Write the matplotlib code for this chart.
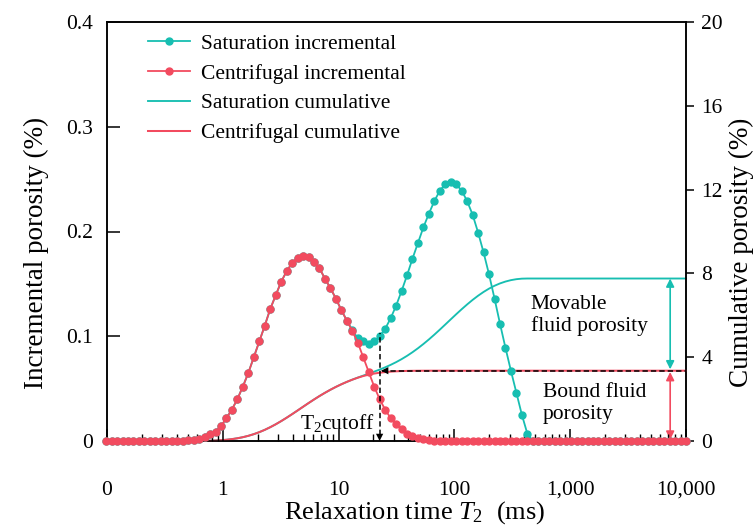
import numpy as np
import matplotlib
matplotlib.use("Agg")
import matplotlib.pyplot as plt
from matplotlib.ticker import FixedLocator, FixedFormatter, LogLocator, NullFormatter

plt.rcParams['font.family'] = ['Liberation Serif', 'DejaVu Serif']
plt.rcParams['mathtext.fontset'] = 'custom'
plt.rcParams['mathtext.rm'] = 'Liberation Serif'
plt.rcParams['mathtext.it'] = 'Liberation Serif:italic'

# T2 grid of the NMR inversion (128 log-spaced bins 0.01-10000 ms, visible part)
T2 = np.logspace(-2, 4, 128)[21:]

centrifugal_inc = [
    0, 0, 0, 0, 0, 0, 0, 0, 0, 0,
    0, 0, 0, 0, 0, 0.001, 0.001, 0.002, 0.004, 0.007,
    0.009, 0.014, 0.022, 0.030, 0.040, 0.052, 0.065, 0.080, 0.095, 0.110,
    0.126, 0.139, 0.152, 0.162, 0.170, 0.175, 0.177, 0.176, 0.171, 0.165,
    0.155, 0.146, 0.136, 0.125, 0.115, 0.105, 0.094, 0.080, 0.066, 0.052,
    0.040, 0.030, 0.022, 0.016, 0.011, 0.007, 0.005, 0.003, 0.002, 0.001,
    0, 0, 0, 0, 0, 0, 0, 0, 0, 0,
    0, 0, 0, 0, 0, 0, 0, 0, 0, 0,
    0, 0, 0, 0, 0, 0, 0, 0, 0, 0,
    0, 0, 0, 0, 0, 0, 0, 0, 0, 0,
    0, 0, 0, 0, 0, 0, 0,
]

saturation_inc = [
    0, 0, 0, 0, 0, 0, 0, 0, 0, 0,
    0, 0, 0, 0, 0, 0.001, 0.001, 0.002, 0.004, 0.007,
    0.009, 0.014, 0.022, 0.030, 0.040, 0.052, 0.065, 0.080, 0.095, 0.110,
    0.126, 0.139, 0.152, 0.162, 0.170, 0.175, 0.177, 0.176, 0.171, 0.165,
    0.155, 0.146, 0.136, 0.125, 0.115, 0.106, 0.098, 0.095, 0.093, 0.095,
    0.100, 0.107, 0.117, 0.129, 0.143, 0.158, 0.174, 0.189, 0.204, 0.217,
    0.229, 0.239, 0.245, 0.247, 0.245, 0.239, 0.229, 0.216, 0.199, 0.180,
    0.159, 0.136, 0.112, 0.089, 0.067, 0.046, 0.025, 0.007, 0, 0,
    0, 0, 0, 0, 0, 0, 0, 0, 0, 0,
    0, 0, 0, 0, 0, 0, 0, 0, 0, 0,
    0, 0, 0, 0, 0, 0, 0,
]

centrifugal_cum = [
    0, 0, 0, 0, 0, 0, 0, 0, 0, 0,
    0, 0, 0, 0, 0, 0.001, 0.002, 0.004, 0.008, 0.015,
    0.024, 0.038, 0.060, 0.090, 0.130, 0.182, 0.247, 0.327, 0.422, 0.532,
    0.658, 0.797, 0.949, 1.111, 1.281, 1.456, 1.633, 1.809, 1.980, 2.145,
    2.300, 2.446, 2.582, 2.707, 2.822, 2.927, 3.021, 3.101, 3.167, 3.219,
    3.259, 3.289, 3.311, 3.327, 3.338, 3.345, 3.350, 3.353, 3.355, 3.356,
    3.356, 3.356, 3.356, 3.356, 3.356, 3.356, 3.356, 3.356, 3.356, 3.356,
    3.356, 3.356, 3.356, 3.356, 3.356, 3.356, 3.356, 3.356, 3.356, 3.356,
    3.356, 3.356, 3.356, 3.356, 3.356, 3.356, 3.356, 3.356, 3.356, 3.356,
    3.356, 3.356, 3.356, 3.356, 3.356, 3.356, 3.356, 3.356, 3.356, 3.356,
    3.356, 3.356, 3.356, 3.356, 3.356, 3.356, 3.356,
]

saturation_cum = [
    0, 0, 0, 0, 0, 0, 0, 0, 0, 0,
    0, 0, 0, 0, 0, 0.001, 0.002, 0.004, 0.008, 0.015,
    0.024, 0.038, 0.060, 0.090, 0.130, 0.182, 0.247, 0.327, 0.422, 0.532,
    0.658, 0.797, 0.949, 1.111, 1.281, 1.456, 1.633, 1.809, 1.980, 2.145,
    2.300, 2.446, 2.582, 2.707, 2.822, 2.928, 3.026, 3.121, 3.214, 3.309,
    3.409, 3.516, 3.633, 3.762, 3.905, 4.063, 4.237, 4.426, 4.630, 4.847,
    5.076, 5.315, 5.560, 5.807, 6.052, 6.291, 6.520, 6.736, 6.935, 7.115,
    7.274, 7.410, 7.522, 7.611, 7.678, 7.724, 7.749, 7.756, 7.756, 7.756,
    7.756, 7.756, 7.756, 7.756, 7.756, 7.756, 7.756, 7.756, 7.756, 7.756,
    7.756, 7.756, 7.756, 7.756, 7.756, 7.756, 7.756, 7.756, 7.756, 7.756,
    7.756, 7.756, 7.756, 7.756, 7.756, 7.756, 7.756,
]

x_ticks = [0.1, 1, 10, 100, 1000, 10000]
x_ticklabels = ['0', '1', '10', '100', '1,000', '10,000']
y_left_ticks = [0, 0.1, 0.2, 0.3, 0.4]
y_left_labels = ['0', '0.1', '0.2', '0.3', '0.4']
y_right_ticks = [0, 4, 8, 12, 16, 20]
y_right_labels = ['0', '4', '8', '12', '16', '20']

T2_CUTOFF = 22.6
CUTOFF_INC = 0.103
BOUND = 3.356
TOTAL = 7.756
ARROW_T2 = 7300

TEAL = '#17BEB1'
RED = '#F24B5F'

fig = plt.figure(figsize=(7.56, 5.26), dpi=100)
ax = fig.add_axes([107/756, 1-441/526, 579/756, 419/526])
ax2 = ax.twinx()

# cumulative (right axis)
l3, = ax2.plot(T2, saturation_cum, color=TEAL, lw=1.35, clip_on=False, zorder=2)
l4, = ax2.plot(T2, centrifugal_cum, color=RED, lw=1.45, clip_on=False, zorder=3)
ax2.hlines(BOUND, T2_CUTOFF * 1.05, 10000, colors='k', linestyles=(0, (3.5, 2)), lw=1.1, zorder=4)
ax2.annotate('', xy=(T2_CUTOFF * 1.03, BOUND), xytext=(T2_CUTOFF * 1.25, BOUND),
             arrowprops=dict(arrowstyle='-|>', color='k', lw=0.01, mutation_scale=13,
                             shrinkA=0, shrinkB=0), zorder=5)
ax2.annotate('', xy=(ARROW_T2, TOTAL), xytext=(ARROW_T2, BOUND),
             arrowprops=dict(arrowstyle='<|-|>', color=TEAL, lw=1.2, mutation_scale=12,
                             shrinkA=1, shrinkB=0))
ax2.annotate('', xy=(ARROW_T2, BOUND), xytext=(ARROW_T2, 0),
             arrowprops=dict(arrowstyle='<|-|>', color=RED, lw=1.2, mutation_scale=12,
                             shrinkA=1, shrinkB=1))
ax2.text(457, 6.0, 'Movable\nfluid porosity', fontsize=15.5, va='center', ha='left', linespacing=1.15)
ax2.text(580, 1.79, 'Bound fluid\nporosity', fontsize=15.5, va='center', ha='left', linespacing=1.15)

# incremental (left axis)
l1, = ax.plot(T2, saturation_inc, color=TEAL, lw=1.3, marker='o', ms=5.0, clip_on=False, zorder=3)
l2, = ax.plot(T2, centrifugal_inc, color=RED, lw=1.3, marker='o', ms=5.0, clip_on=False, zorder=4)
ax.vlines(T2_CUTOFF, 0.006, CUTOFF_INC, colors='k', linestyles=(0, (3.5, 2)), lw=1.1, zorder=5)
ax.annotate('', xy=(T2_CUTOFF, 0.0), xytext=(T2_CUTOFF, 0.012),
            arrowprops=dict(arrowstyle='-|>', color='k', lw=0.01, mutation_scale=13,
                            shrinkA=0, shrinkB=0), zorder=6)
ax.text(4.64, 0.0175, r'T$_{\mathrm{2}}$cutoff', fontsize=15.5, va='center', ha='left')

ax.set_zorder(ax2.get_zorder() + 1)
ax.patch.set_visible(False)

ax.set_xscale('log')
ax.set_xlim(0.1, 10000)
ax.set_ylim(0, 0.4)
ax2.set_ylim(0, 20)

ax.xaxis.set_major_locator(FixedLocator(x_ticks))
ax.xaxis.set_major_formatter(FixedFormatter(x_ticklabels))
ax.xaxis.set_minor_locator(LogLocator(base=10, subs=np.arange(2, 10), numticks=30))
ax.xaxis.set_minor_formatter(NullFormatter())
ax.yaxis.set_major_locator(FixedLocator(y_left_ticks))
ax.yaxis.set_major_formatter(FixedFormatter(y_left_labels))
ax2.yaxis.set_major_locator(FixedLocator(y_right_ticks))
ax2.yaxis.set_major_formatter(FixedFormatter(y_right_labels))

ax.tick_params(axis='x', which='major', direction='in', length=9, width=1.1, pad=28.5, labelsize=15.5, top=False)
ax.tick_params(axis='x', which='minor', direction='in', length=5, width=1.0, top=False)
ax.tick_params(axis='y', which='major', direction='in', length=9, width=1.1, pad=10, labelsize=15.5)
ax2.tick_params(axis='y', which='major', direction='out', length=6, width=1.1, pad=5, labelsize=15.5)

for a in (ax, ax2):
    for s in a.spines.values():
        s.set_linewidth(1.1)

ax.set_xlabel(r'Relaxation time $\mathit{T}_{\mathrm{2}}$  (ms)', fontsize=19)
ax.xaxis.set_label_coords(0.532, -0.139)
ax.set_ylabel('Incremental porosity (%)', fontsize=19.5)
ax.yaxis.set_label_coords(-0.100, 0.45)
ax2.set_ylabel('Cumulative porosity (%)', fontsize=19.5)
ax2.yaxis.set_label_coords(1.074, 0.45)

ax.legend([l1, l2, l3, l4],
          ['Saturation incremental', 'Centrifugal incremental',
           'Saturation cumulative', 'Centrifugal cumulative'],
          loc='upper left', bbox_to_anchor=(0.0708, 0.972), frameon=False, fontsize=15.5,
          handlelength=1.95, handletextpad=0.5, labelspacing=0.45, borderaxespad=0, borderpad=0)

fig.savefig('out.png', dpi=100)
